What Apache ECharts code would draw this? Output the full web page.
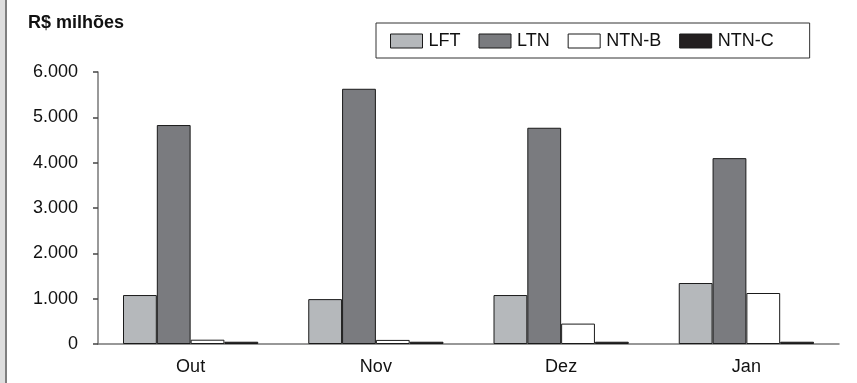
<!DOCTYPE html>
<html>
<head>
<meta charset="utf-8">
<script src="https://cdn.jsdelivr.net/npm/echarts@6/dist/echarts.min.js"></script>
<style>
  html, body { margin: 0; padding: 0; background: #fff; }
  #chart { width: 857px; height: 383px; }
</style>
</head>
<body>
<div id="chart"></div>
<script>
// Colocação de títulos públicos federais por tipo (R$ milhões)
const months = ['Out', 'Nov', 'Dez', 'Jan'];
const lft  = [1080, 990, 1080, 1345];
const ltn  = [4830, 5630, 4770, 4100];
const ntnB = [95, 90, 450, 1125];
const ntnC = [50, 50, 50, 50];
const yTicks = { min: 0, max: 6000, interval: 1000 };

const font = 'Liberation Sans, Arial, sans-serif';
const fmt = v => v === 0 ? '0' : String(v).replace(/\B(?=(\d{3})+(?!\d))/g, '.');

const border = { borderColor: '#1a1a1a', borderWidth: 1 };
function bar(name, data, color) {
  return {
    name, type: 'bar', data,
    barCategoryGap: '27%', barGap: '0%',
    itemStyle: Object.assign({ color }, border),
    emphasis: { disabled: true }
  };
}

const chart = echarts.init(document.getElementById('chart'), null, { renderer: 'canvas' });
chart.setOption({
  animation: false,
  backgroundColor: '#fff',
  textStyle: { fontFamily: font },
  grid: { left: 98, right: 18, top: 72, bottom: 39, containLabel: false },
  graphic: [
    { type: 'rect', shape: { x: 0, y: 0, width: 5, height: 383 }, style: { fill: '#dedede' } },
    { type: 'line', shape: { x1: 6, y1: 0, x2: 6, y2: 383 }, style: { stroke: '#555', lineWidth: 1.5 } },
    { type: 'text', left: 28, top: 14, style: { text: 'R$ milhões', font: 'bold 18px ' + font, fill: '#111' } }
  ],
  legend: {
    left: 376, top: 23,
    padding: [9, 36, 8, 14],
    borderColor: '#333', borderWidth: 1,
    itemWidth: 32, itemHeight: 14, itemGap: 18,
    icon: 'rect',
    itemStyle: border,
    textStyle: { fontSize: 18, color: '#111', fontFamily: font, padding: [0, 0, 0, 1] },
    data: ['LFT', 'LTN', 'NTN-B', 'NTN-C']
  },
  xAxis: {
    type: 'category', data: months,
    axisLine: { lineStyle: { color: '#777', width: 1.5 } },
    axisTick: { length: 7, lineStyle: { color: '#444', width: 1.5 } },
    axisLabel: { fontSize: 18, color: '#111', margin: 14 }
  },
  yAxis: {
    type: 'value', min: yTicks.min, max: yTicks.max, interval: yTicks.interval,
    axisLine: { show: true, lineStyle: { color: '#777', width: 1.5 } },
    axisTick: { show: true, length: 5, lineStyle: { color: '#444', width: 1.5 } },
    splitLine: { show: false },
    axisLabel: { fontSize: 18, color: '#111', margin: 20, formatter: fmt }
  },
  series: [
    bar('LFT', lft, '#b5b8bb'),
    bar('LTN', ltn, '#7a7b7f'),
    bar('NTN-B', ntnB, '#ffffff'),
    bar('NTN-C', ntnC, '#231f20')
  ]
});
</script>
</body>
</html>
